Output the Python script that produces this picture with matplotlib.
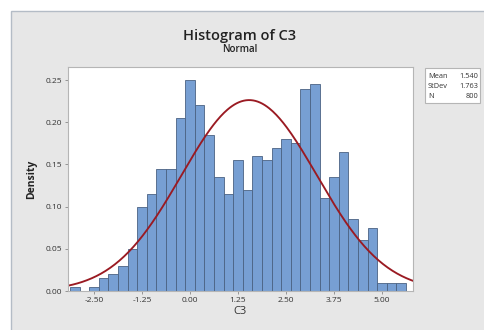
import numpy as np
import matplotlib.pyplot as plt
from matplotlib.patches import Rectangle

# bin centres (width 0.25) and counts, N = 800
bin_centers = np.arange(-3.0, 5.5 + 0.001, 0.25)
counts = [1, 0, 1, 3, 4, 6, 10, 20, 23, 29, 29, 41, 50, 44, 37, 27, 23, 31,
          24, 32, 31, 34, 36, 35, 48, 49, 22, 27, 33, 17, 12, 15, 2, 2, 2]
bin_width = 0.25
mean, stdev, n = 1.540, 1.763, 800
xticks = [-2.50, -1.25, 0.00, 1.25, 2.50, 3.75, 5.00]
yticks = [0.00, 0.05, 0.10, 0.15, 0.20, 0.25]

plt.rcParams['font.family'] = ['Open Sans', 'DejaVu Sans']

fig = plt.figure(figsize=(4.84, 3.30), dpi=100)
fig.patch.set_facecolor('white')
# grey panel with thin border, like the Minitab window
fig.patches.append(Rectangle((11 / 484, -0.01), 1.0, 1 - 11 / 330 + 0.01,
                             transform=fig.transFigure, facecolor='#e7e7e7',
                             edgecolor='#b4bcc6', linewidth=1.0, zorder=-1))

ax = fig.add_axes([68 / 484, 1 - 291 / 330, (413 - 68) / 484, (291 - 67) / 330])
density = np.array(counts) / (n * bin_width)
ax.bar(bin_centers, density, width=bin_width, color='#779fd3',
       edgecolor='#4a6283', linewidth=0.6)

xs = np.linspace(-3.2, 5.85, 300)
pdf = np.exp(-0.5 * ((xs - mean) / stdev) ** 2) / (stdev * np.sqrt(2 * np.pi))
ax.plot(xs, pdf, color='#9a1a22', linewidth=1.35)

ax.set_xlim(-3.18, 5.81)
ax.set_ylim(0, 0.2655)
ax.set_xticks(xticks)
ax.set_xticklabels([f'{v:.2f}' for v in xticks])
ax.set_yticks(yticks)
ax.set_yticklabels([f'{v:.2f}' for v in yticks])
ax.tick_params(labelsize=6, colors='#333333', length=2.5, width=0.6,
               color='#888888', pad=2)
for s in ax.spines.values():
    s.set_color('#b5b5b5')
    s.set_linewidth(0.8)

ax.set_xlabel('C3', fontsize=8, color='#333333', labelpad=1)
ax.set_ylabel('Density', fontsize=7.5, fontweight='bold', color='#222222', labelpad=6)

fig.text(240 / 484, 1 - 36 / 330, 'Histogram of C3', ha='center', va='center',
         fontsize=10.5, fontweight='semibold', color='#222222')
fig.text(240 / 484, 1 - 50 / 330, 'Normal', ha='center', va='center',
         fontsize=7, fontweight='semibold', color='#222222')

# stats box
fig.patches.append(Rectangle((425 / 484, 1 - 103 / 330), 55 / 484, 35 / 330,
                             transform=fig.transFigure, facecolor='white',
                             edgecolor='#b5b5b5', linewidth=0.8))
labels = ['Mean', 'StDev', 'N']
values = [f'{mean:.3f}', f'{stdev:.3f}', f'{n}']
for i, (lab, val) in enumerate(zip(labels, values)):
    y = 1 - (76 + i * 10) / 330
    fig.text(428 / 484, y, lab, fontsize=5.3, va='center', ha='left', color='#333333')
    fig.text(478 / 484, y, val, fontsize=5.3, va='center', ha='right', color='#333333')

fig.savefig('out.png', dpi=100)
